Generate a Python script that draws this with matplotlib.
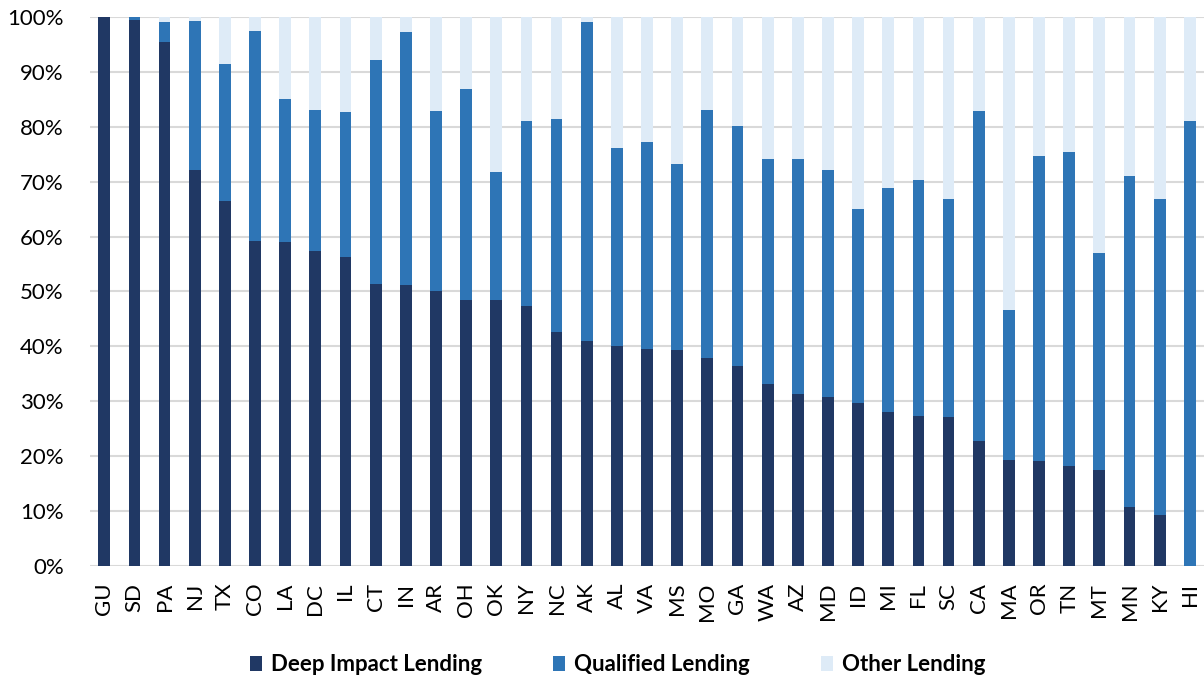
import matplotlib
import numpy as np

matplotlib.use("Agg")
import matplotlib.pyplot as plt  # noqa: E402
from matplotlib.ticker import PercentFormatter  # noqa: E402

states = ["GU", "SD", "PA", "NJ", "TX", "CO", "LA", "DC", "IL", "CT", "IN", "AR",
          "OH", "OK", "NY", "NC", "AK", "AL", "VA", "MS", "MO", "GA", "WA", "AZ",
          "MD", "ID", "MI", "FL", "SC", "CA", "MA", "OR", "TN", "MT", "MN", "KY", "HI"]

# shares in percent
deep_impact = [100.0, 99.5, 95.5, 72.2, 66.5, 59.2, 59.0, 57.3, 56.3, 51.3, 51.2, 50.1,
               48.5, 48.4, 47.3, 42.6, 41.0, 40.0, 39.5, 39.4, 37.8, 36.4, 33.1, 31.4,
               30.7, 29.6, 28.0, 27.4, 27.1, 22.7, 19.4, 19.1, 18.2, 17.5, 10.8, 9.3, 0.0]
qualified = [0.0, 0.5, 3.5, 27.1, 25.0, 38.3, 26.0, 25.7, 26.4, 40.9, 46.0, 32.7,
             38.3, 23.4, 33.7, 38.9, 58.0, 36.2, 37.7, 33.8, 45.2, 43.7, 41.1, 42.7,
             41.5, 35.5, 40.8, 42.9, 39.8, 60.1, 27.2, 55.5, 57.2, 39.5, 60.2, 57.5, 81.1]

deep = np.asarray(deep_impact)
qual = np.asarray(qualified)
other = 100.0 - deep - qual

c_deep = "#203864"
c_qual = "#2E75B6"
c_other = "#DEEBF7"

plt.rcParams["font.family"] = ["Lato", "DejaVu Sans"]

fig = plt.figure(figsize=(12.04, 6.79), dpi=100)
ax = fig.add_axes([0.0748, 0.1664, 0.9252, 0.8086])

x = np.arange(len(states))
w = 0.39
ax.bar(x, deep, width=w, color=c_deep, label="Deep Impact Lending", zorder=3)
ax.bar(x, qual, width=w, bottom=deep, color=c_qual, label="Qualified Lending", zorder=3)
ax.bar(x, other, width=w, bottom=deep + qual, color=c_other, label="Other Lending", zorder=3)

ax.set_xlim(-0.47, len(states) - 0.53)
ax.set_ylim(0, 100)
ax.set_yticks(np.arange(0, 101, 10))
ax.yaxis.set_major_formatter(PercentFormatter(decimals=0))
ax.set_xticks(x)
ax.set_xticklabels(states, rotation=90)
ax.tick_params(axis="both", length=0, labelsize=16, colors="black")
ax.tick_params(axis="x", pad=12)
ax.tick_params(axis="y", pad=19)
ax.grid(True, axis="y", color="#D9D9D9", linewidth=1.5, zorder=0)
for side in ["top", "right", "left", "bottom"]:
    ax.spines[side].set_visible(False)

leg = fig.legend(loc="lower center", bbox_to_anchor=(0.513, -0.024), ncol=3, frameon=False,
                 prop={"size": 16, "weight": "bold"}, handlelength=0.55, handleheight=0.7,
                 handletextpad=0.4, columnspacing=3.2)

fig.savefig("out.png", dpi=100)
